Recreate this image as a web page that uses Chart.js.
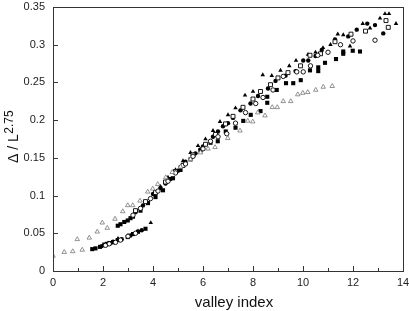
<!DOCTYPE html>
<html>
<head>
<meta charset="utf-8">
<script src="https://cdn.jsdelivr.net/npm/chart.js@4"></script>
<style>
  html, body { margin: 0; padding: 0; background: #fff; }
</style>
</head>
<body>
<canvas id="myChart" width="409" height="311"></canvas>
<script>
const xTicks = [0, 2, 4, 6, 8, 10, 12, 14];
const yTicks = [0, 0.05, 0.1, 0.15, 0.2, 0.25, 0.3, 0.35];
const xTitle = 'valley index';
const yTitleMain = 'Δ / L';
const yTitleSup = '2.75';

// open triangles (grey)
const openTriX = [0, 0.45, 0.79, 1.17, 0.97, 1.45, 1.77, 1.97, 2.17, 2.48, 2.79, 2.99, 3.19, 3.48, 3.79, 3.99, 4.19, 4.51, 4.77, 5.1, 5.5, 5.9, 6.2, 6.48, 6.99, 7.48, 7.79, 7.99, 8.19, 8.48, 8.77, 8.97, 9.21, 9.51, 9.79, 9.99, 10.19, 10.51, 10.81, 11.17];
const openTriY = [0.020, 0.025, 0.026, 0.028, 0.042, 0.044, 0.052, 0.064, 0.057, 0.069, 0.079, 0.087, 0.087, 0.093, 0.105, 0.109, 0.115, 0.124, 0.131, 0.138, 0.148, 0.157, 0.162, 0.164, 0.176, 0.186, 0.199, 0.198, 0.210, 0.206, 0.217, 0.217, 0.225, 0.225, 0.234, 0.236, 0.237, 0.240, 0.244, 0.245];

// filled squares
const fillSqX = [1.57, 1.7, 1.88, 2.05, 2.15, 2.28, 2.4, 2.59, 2.99, 3.2, 3.4, 3.7, 2.59, 2.7, 2.85, 2.99, 3.1, 3.2, 3.5, 3.8, 4.1, 4.4, 4.8, 5.1, 5.5, 5.9, 6.3, 6.59, 6.91, 7.3, 7.61, 7.91, 8.3, 8.57, 8.57, 8.95, 9.32, 9.61, 9.91, 10.28, 10.61, 10.61, 10.88, 11.32, 11.61, 11.61, 11.99, 12.28];
const fillSqY = [0.029, 0.030, 0.032, 0.035, 0.036, 0.037, 0.038, 0.041, 0.045, 0.049, 0.052, 0.056, 0.060, 0.062, 0.065, 0.067, 0.070, 0.072, 0.080, 0.090, 0.098, 0.107, 0.123, 0.134, 0.148, 0.160, 0.170, 0.172, 0.185, 0.190, 0.199, 0.207, 0.212, 0.223, 0.231, 0.240, 0.249, 0.249, 0.253, 0.266, 0.265, 0.270, 0.276, 0.281, 0.291, 0.288, 0.292, 0.291];

// filled circles
const fillCirX = [1.95, 2.4, 2.75, 3.1, 3.55, 3.3, 3.6, 4.0, 4.3, 4.5, 4.7, 5.0, 5.1, 5.3, 5.7, 5.9, 6.0, 6.4, 6.6, 6.8, 7.0, 7.2, 7.5, 7.9, 8.2, 8.6, 8.9, 9.3, 9.7, 10.01, 10.21, 10.5, 10.75, 11.28, 11.81, 12.15, 12.57, 12.88, 13.21];
const fillCirY = [0.033, 0.039, 0.042, 0.047, 0.054, 0.078, 0.087, 0.102, 0.110, 0.116, 0.122, 0.133, 0.138, 0.145, 0.156, 0.161, 0.165, 0.178, 0.185, 0.192, 0.196, 0.203, 0.213, 0.222, 0.232, 0.242, 0.252, 0.259, 0.265, 0.279, 0.279, 0.285, 0.293, 0.307, 0.311, 0.320, 0.328, 0.326, 0.315];

// open circles
const openCirX = [2.1, 2.25, 2.5, 2.7, 3.0, 3.3, 3.2, 3.5, 3.9, 4.2, 4.6, 4.9, 5.3, 5.6, 6.0, 6.3, 6.6, 6.95, 7.3, 7.7, 8.11, 8.4, 8.8, 9.21, 9.75, 10.01, 10.3, 10.59, 11.0, 11.5, 12.0, 12.88];
const openCirY = [0.034, 0.036, 0.038, 0.041, 0.046, 0.050, 0.074, 0.083, 0.096, 0.106, 0.119, 0.130, 0.142, 0.152, 0.162, 0.172, 0.178, 0.182, 0.196, 0.210, 0.222, 0.230, 0.240, 0.258, 0.264, 0.264, 0.272, 0.286, 0.290, 0.300, 0.305, 0.306];

// open squares
const openSqX = [3.3, 3.7, 4.1, 4.5, 4.9, 5.2, 5.6, 6.1, 6.5, 6.9, 7.2, 7.6, 8.0, 8.3, 8.7, 9.0, 9.4, 9.9, 10.28, 10.7, 11.28, 11.92, 12.5, 13.32, 13.41];
const openSqY = [0.080, 0.092, 0.104, 0.118, 0.132, 0.140, 0.154, 0.168, 0.181, 0.195, 0.205, 0.217, 0.228, 0.238, 0.247, 0.256, 0.263, 0.272, 0.286, 0.288, 0.304, 0.314, 0.318, 0.332, 0.323];

// filled triangles
const fillTriX = [2.2, 2.6, 3.0, 3.4, 3.91, 4.3, 4.6, 4.9, 5.2, 5.5, 5.8, 6.1, 6.4, 6.68, 7.0, 7.3, 7.68, 8.0, 8.39, 8.75, 9.1, 9.45, 9.72, 10.2, 10.5, 10.8, 11.1, 11.39, 11.61, 11.88, 12.39, 12.68, 13.08, 13.28, 13.44, 13.72];
const fillTriY = [0.037, 0.043, 0.047, 0.053, 0.064, 0.112, 0.124, 0.134, 0.146, 0.157, 0.166, 0.175, 0.186, 0.198, 0.207, 0.216, 0.233, 0.238, 0.260, 0.259, 0.266, 0.272, 0.279, 0.287, 0.290, 0.296, 0.300, 0.314, 0.313, 0.298, 0.328, 0.322, 0.335, 0.341, 0.341, 0.328];

const pts = (xs, ys) => xs.map((x, i) => ({x: x, y: ys[i]}));

const PLOT = {left: 53, right: 403, top: 7, bottom: 271};

const framePlugin = {
    id: 'frame',
    afterDraw(chart) {
        const c = chart.ctx;
        const xs = chart.scales.x, ys = chart.scales.y;
        const a = chart.chartArea;
        c.save();
        c.strokeStyle = '#333';
        c.lineWidth = 1;
        c.strokeRect(Math.round(a.left) + 0.5, Math.round(a.top) + 0.5, Math.round(a.right - a.left), Math.round(a.bottom - a.top));
        c.beginPath();
        // x ticks, pointing inward
        for (let v = 0; v <= 14; v++) {
            const px = Math.round(xs.getPixelForValue(v)) + 0.5;
            const len = v % 2 === 0 ? 5 : 3;
            c.moveTo(px, a.bottom);
            c.lineTo(px, a.bottom - len);
        }
        yTicks.forEach(v => {
            const py = Math.round(ys.getPixelForValue(v)) + 0.5;
            c.moveTo(a.left, py);
            c.lineTo(a.left + 5, py);
        });
        c.stroke();

        c.fillStyle = '#111';
        c.textAlign = 'center';
        c.textBaseline = 'alphabetic';
        c.font = '15px "Liberation Sans", Arial, sans-serif';
        c.fillText(xTitle, 234, 307);

        // rotated y title with superscript
        c.translate(18, 137);
        c.rotate(-Math.PI / 2);
        c.font = '14px "Liberation Sans", Arial, sans-serif';
        const w1 = c.measureText(yTitleMain).width;
        c.font = '12px "Liberation Sans", Arial, sans-serif';
        const w2 = c.measureText(yTitleSup).width;
        const start = -(w1 + w2) / 2;
        c.textAlign = 'left';
        c.font = '14px "Liberation Sans", Arial, sans-serif';
        c.fillText(yTitleMain, start, 0);
        c.font = '12px "Liberation Sans", Arial, sans-serif';
        c.fillText(yTitleSup, start + w1 + 0.5, -5);
        c.restore();
    }
};

const ctx = document.getElementById('myChart');

new Chart(ctx, {
    type: 'scatter',
    data: {
        datasets: [
            {label: 'open triangles', data: pts(openTriX, openTriY), pointStyle: 'triangle', pointRadius: 2.6,
                pointBackgroundColor: '#fff', pointBorderColor: '#777', pointBorderWidth: 0.8},
            {label: 'open circles', data: pts(openCirX, openCirY), pointStyle: 'circle', pointRadius: 2.2,
                pointBackgroundColor: '#fff', pointBorderColor: '#000', pointBorderWidth: 0.9},
            {label: 'open squares', data: pts(openSqX, openSqY), pointStyle: 'rect', pointRadius: 2.8,
                pointBackgroundColor: '#fff', pointBorderColor: '#000', pointBorderWidth: 0.9},
            {label: 'filled squares', data: pts(fillSqX, fillSqY), pointStyle: 'rect', pointRadius: 2.9,
                pointBackgroundColor: '#000', pointBorderColor: '#000', pointBorderWidth: 0},
            {label: 'filled circles', data: pts(fillCirX, fillCirY), pointStyle: 'circle', pointRadius: 2.2,
                pointBackgroundColor: '#000', pointBorderColor: '#000', pointBorderWidth: 0},
            {label: 'filled triangles', data: pts(fillTriX, fillTriY), pointStyle: 'triangle', pointRadius: 2.6,
                pointBackgroundColor: '#000', pointBorderColor: '#000', pointBorderWidth: 0}
        ]
    },
    options: {
        responsive: false,
        animation: false,
        devicePixelRatio: 1,
        layout: {padding: {left: 0, right: 409 - PLOT.right, top: PLOT.top, bottom: 0}},
        plugins: {
            legend: {display: false},
            tooltip: {enabled: false}
        },
        scales: {
            x: {
                type: 'linear', min: 0, max: 14,
                grid: {display: false, drawTicks: false},
                border: {display: false},
                afterFit: s => { s.height = 311 - PLOT.bottom; s.paddingRight = 0; s.paddingLeft = 0; },
                afterBuildTicks: s => { s.ticks = xTicks.map(v => ({value: v})); },
                ticks: {padding: 5, maxRotation: 0, color: '#222',
                    font: {size: 11, family: '"Liberation Sans", Arial, sans-serif'}}
            },
            y: {
                type: 'linear', min: 0, max: 0.35,
                grid: {display: false, drawTicks: false},
                border: {display: false},
                afterFit: s => { s.width = PLOT.left; s.paddingTop = 0; s.paddingBottom = 0; },
                afterBuildTicks: s => { s.ticks = yTicks.map(v => ({value: v})); },
                ticks: {padding: 8, color: '#222',
                    font: {size: 11, family: '"Liberation Sans", Arial, sans-serif'},
                    callback: v => String(+v.toFixed(2))}
            }
        }
    },
    plugins: [framePlugin]
});
</script>
</body>
</html>
